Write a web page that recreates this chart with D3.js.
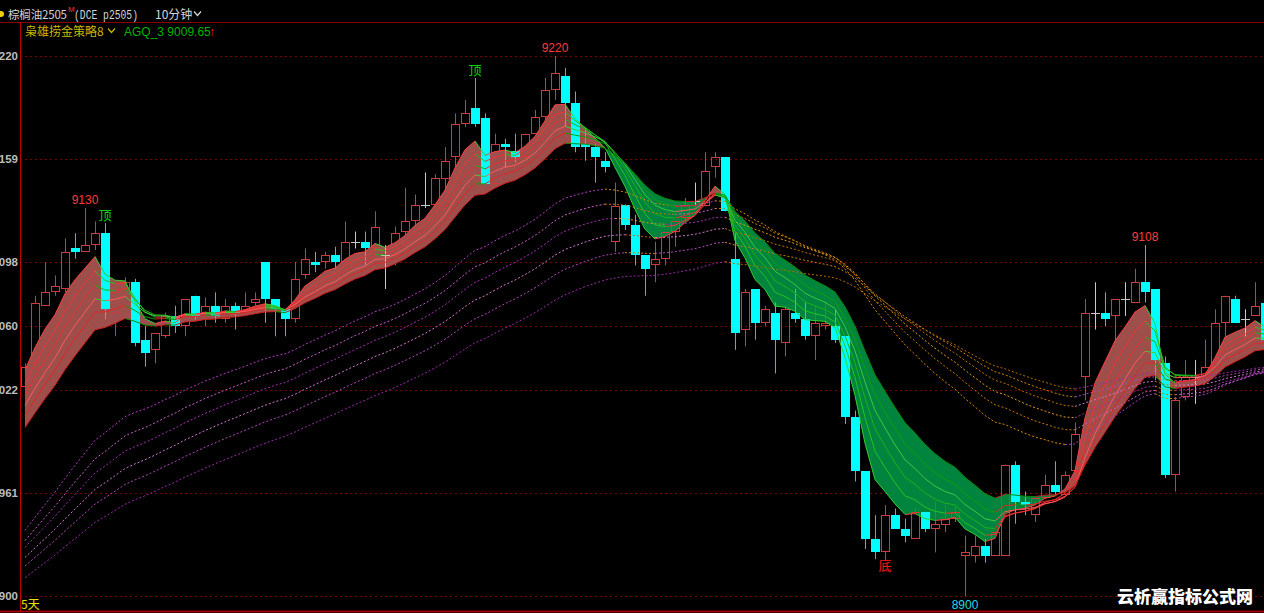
<!DOCTYPE html>
<html><head><meta charset="utf-8">
<script src="https://cdn.jsdelivr.net/npm/d3@7"></script>
<style>html,body{margin:0;padding:0;background:#000;overflow:hidden}</style>
</head><body><svg id="c" width="1264" height="613"></svg>
<script>
// ---- data (price values) ----
const openP  = [9024,9038,9072,9080,9082,9106,9104,9108,9115,9068,9082,9086,9052,9046,9054,9066,9060,9078,9068,9072,9064,9072,9068,9074,9098,9076,9070,9064,9090,9098,9098,9102,9098,9110,9110,9106,9102,9102,9116,9122,9132,9132,9147,9160,9180,9189,9183,9144,9168,9164,9160,9174,9184,9200,9208,9192,9168,9166,9158,9110,9132,9120,9102,9096,9100,9116,9124,9134,9131,9154,9160,9100,9058,9082,9062,9068,9050,9068,9064,9054,9060,9060,9054,9006,8974,8934,8926,8948,8940,8934,8950,8940,8942,8946,8924,8924,8930,8924,8924,8978,8956,8948,8958,8966,8960,8974,9030,9068,9068,9066,9076,9074,9086,9082,9038,8972,9018,9030,9030,9035,9062,9076,9064,9066,9074];
const highP  = [9038,9078,9098,9090,9112,9115,9130,9122,9121,9084,9089,9088,9060,9056,9068,9072,9076,9078,9077,9080,9076,9074,9080,9080,9098,9076,9070,9098,9106,9104,9104,9107,9122,9116,9116,9128,9108,9119,9142,9138,9151,9150,9166,9186,9194,9207,9186,9174,9171,9174,9174,9188,9207,9220,9213,9199,9177,9168,9163,9145,9132,9126,9102,9110,9116,9122,9136,9145,9163,9163,9160,9115,9082,9082,9072,9074,9072,9082,9074,9072,9074,9070,9054,9010,8974,8948,8954,8952,8946,8952,8950,8956,8954,8953,8936,8936,8934,8938,8978,8980,8962,8958,8972,8980,8974,9003,9076,9086,9080,9076,9086,9094,9108,9082,9042,9018,9040,9040,9052,9070,9078,9078,9070,9086,9078];
const lowP   = [9023,9024,9072,9078,9080,9100,9104,9105,9064,9054,9078,9048,9036,9038,9053,9056,9054,9064,9060,9062,9062,9058,9068,9072,9062,9054,9054,9062,9088,9092,9094,9094,9098,9106,9096,9100,9082,9096,9113,9116,9130,9130,9135,9148,9178,9178,9144,9142,9154,9157,9159,9174,9180,9194,9178,9163,9158,9145,9151,9104,9117,9096,9078,9086,9096,9107,9122,9131,9131,9148,9128,9046,9048,9052,9060,9032,9042,9062,9052,9040,9058,9050,9002,8968,8928,8922,8922,8940,8932,8934,8938,8926,8938,8944,8900,8920,8920,8924,8924,8943,8948,8944,8958,8960,8960,8974,9016,9058,9060,9050,9066,9074,9074,9028,8970,8962,9016,9014,9030,9035,9050,9062,9054,9066,9052];
const closeP = [9036,9074,9080,9084,9104,9104,9108,9115,9070,9080,9086,9050,9044,9056,9066,9060,9076,9066,9072,9066,9072,9068,9072,9076,9076,9070,9064,9088,9100,9096,9102,9098,9110,9110,9106,9119,9102,9115,9122,9132,9132,9148,9158,9180,9186,9180,9144,9168,9166,9160,9174,9184,9200,9210,9192,9166,9166,9160,9154,9131,9120,9102,9094,9100,9116,9122,9132,9134,9152,9160,9128,9056,9080,9062,9070,9052,9070,9064,9054,9062,9062,9052,9006,8974,8934,8926,8948,8940,8936,8950,8940,8943,8946,8950,8926,8930,8924,8938,8978,8956,8954,8958,8966,8962,8972,8996,9068,9068,9064,9076,9076,9086,9080,9040,8972,9016,9030,9030,9036,9062,9078,9062,9064,9072,9052];
const yTicks = [9220,9159,9098,9060,9022,8961,8900];
// indicator lines: starting values read at the first bar, and their periods
const ribbonStart   = [9034,9026,9019,9013,9007,9000];
const ribbonPeriods = [5,7,9,11,13,16];
const fanStart      = [8939,8933,8929,8923,8918,8911];
const fanPeriods    = [34,40,46,53,61,72];
// annotations
const priceMarks  = [{i:6,v:9130,side:"high",txt:"9130"},{i:53,v:9220,side:"high",txt:"9220"},{i:112,v:9108,side:"high",txt:"9108"},{i:94,v:8900,side:"low",txt:"8900"}];
const signalMarks = [{i:8,txt:"顶",side:"high"},{i:45,txt:"顶",side:"high"},{i:86,txt:"底",side:"low"}];

// ---- drawing ----
const W=1264,H=613;
const n = closeP.length;
const bars = d3.range(n);
const svg = d3.select("#c");
svg.append("rect").attr("width",W).attr("height",H).attr("fill","#000");

const x = d3.scaleLinear().domain([0,124]).range([25,1265]);
const y = d3.scaleLinear().domain([8900,9220]).range([596.3,56]);

svg.append("defs").append("clipPath").attr("id","plot")
  .append("rect").attr("x",21).attr("y",23).attr("width",W-21).attr("height",587);

// axis + grid (the price column is narrow: only the last three digits are visible)
const axis = svg.append("g").attr("transform","translate(20,0)")
  .call(d3.axisLeft(y).tickValues(yTicks).tickSize(-(W-20)).tickPadding(2).tickFormat(d=>String(d).slice(1)));
axis.select(".domain").remove();
axis.selectAll(".tick").attr("transform",d=>"translate(0,"+(Math.round(y(d))+0.5)+")");
axis.selectAll(".tick line").attr("stroke","#7a0000").attr("stroke-dasharray","2,3");
axis.selectAll(".tick text").attr("fill","#bdbdbd").attr("font-size","11.5px")
  .attr("font-family","'Liberation Sans',Arial,sans-serif").attr("font-weight","bold");

const plot = svg.append("g").attr("clip-path","url(#plot)");

function ema(seed, period){
  const a = 2/(period+1); const out=[seed];
  for(let i=1;i<n;i++) out.push(out[i-1]+a*(closeP[i]-out[i-1]));
  return out;
}
const ribbon = ribbonPeriods.map((p,k)=>ema(ribbonStart[k],p));
const fan = fanPeriods.map((p,k)=>ema(fanStart[k],p));

// ribbon fill between fastest and slowest line
(function(){
  const f = ribbon[0], s = ribbon[ribbon.length-1];
  const runs=[]; let cur={up:f[0]>=s[0],pts:[{x:x(0),f:y(f[0]),s:y(s[0])}]};
  for(let i=1;i<n;i++){
    const up = f[i]>=s[i];
    if(up!==cur.up){
      const d0=f[i-1]-s[i-1], d1=f[i]-s[i]; const t=d0/(d0-d1);
      const cx=x(i-1)+t*(x(i)-x(i-1)); const cv=y(f[i-1]+t*(f[i]-f[i-1]));
      cur.pts.push({x:cx,f:cv,s:cv}); runs.push(cur);
      cur={up:up,pts:[{x:cx,f:cv,s:cv}]};
    }
    cur.pts.push({x:x(i),f:y(f[i]),s:y(s[i])});
  }
  runs.push(cur);
  const area=d3.area().x(d=>d.x).y0(d=>d.f).y1(d=>d.s);
  plot.append("g").selectAll("path").data(runs).join("path")
    .attr("d",r=>area(r.pts)).attr("fill",r=>r.up?"#9e4e4b":"#00843e");
})();

// candles
const cg = plot.append("g");
bars.forEach(i=>{
  const cx = Math.round(x(i));
  const o=openP[i], c=closeP[i], h=highP[i], l=lowP[i];
  const yTop=Math.round(y(Math.max(o,c))), yBot=Math.round(y(Math.min(o,c)));
  if(c>o){
    const col="#d03a3a";
    cg.append("line").attr("x1",cx+0.5).attr("x2",cx+0.5).attr("y1",y(h)).attr("y2",yTop).attr("stroke",col);
    cg.append("line").attr("x1",cx+0.5).attr("x2",cx+0.5).attr("y1",yBot).attr("y2",y(l)).attr("stroke",col);
    cg.append("rect").attr("x",cx-3.5).attr("y",yTop+0.5).attr("width",8).attr("height",Math.max(1,yBot-yTop-1))
      .attr("fill","none").attr("stroke",col);
  } else if(c<o){
    cg.append("line").attr("x1",cx+0.5).attr("x2",cx+0.5).attr("y1",y(h)).attr("y2",y(l)).attr("stroke","#00d8d8");
    cg.append("rect").attr("x",cx-4).attr("y",yTop).attr("width",9).attr("height",Math.max(1,yBot-yTop))
      .attr("fill","#00ffff");
  } else {
    cg.append("line").attr("x1",cx+0.5).attr("x2",cx+0.5).attr("y1",y(h)).attr("y2",y(l)).attr("stroke","#c8c8c8");
    cg.append("line").attr("x1",cx-4).attr("x2",cx+5).attr("y1",yTop+0.5).attr("y2",yTop+0.5).attr("stroke","#c8c8c8");
  }
});

// coloured line runs
function drawRuns(g, vals, upCol, dnCol, dash){
  const line=d3.line().x(i=>x(i)).y(i=>y(vals[i]));
  let start=0, up=vals[1]>=vals[0];
  const flush=(a,b,u)=>{ g.append("path").attr("d",line(d3.range(a,b+1))).attr("fill","none")
      .attr("stroke",u?upCol:dnCol).attr("stroke-width",1).attr("stroke-dasharray",dash||null); };
  for(let i=2;i<n;i++){
    const u=vals[i]>=vals[i-1];
    if(u!==up){ flush(start,i-1,up); start=i-1; up=u; }
  }
  flush(start,n-1,up);
}
const fanG = plot.append("g");
const purples=["#b23cc0","#c860c8","#a030b0","#d07ad0","#b048b8","#9a2aa8"];
const oranges=["#d88a00","#c87800","#e09a20","#c07000","#d08410","#b86a00"];
fan.forEach((v,k)=>drawRuns(fanG,v,purples[k],oranges[k],"2,2"));
const ribG = plot.append("g");
const reds=["#ff4040","#f03434","#e83030","#ff5a5a","#e02626","#d01c1c"];
const greens=["#30d030","#22c422","#18b418","#40c840","#0ca00c","#068a06"];
ribbon.forEach((v,k)=>drawRuns(ribG,v,reds[k],greens[k]));

// annotations
const ag = svg.append("g");
priceMarks.forEach(m=>{
  ag.append("text").attr("x",x(m.i)).attr("y",m.side==="high"?y(m.v)-4:y(m.v)+13)
    .attr("text-anchor","middle").attr("font-size","12px").attr("font-family","'Liberation Sans',Arial,sans-serif")
    .attr("fill",m.side==="high"?"#ff3a3a":"#20d8e8").text(m.txt);
});
signalMarks.forEach(m=>{
  const yy = m.side==="high"? y(highP[m.i])-3 : y(lowP[m.i])+11;
  ag.append("text").attr("x",x(m.i)).attr("y",yy).attr("text-anchor","middle").attr("font-size","13px")
    .attr("font-family","'Noto Sans CJK SC',sans-serif").attr("fill",m.side==="high"?"#10d010":"#ff1a1a").text(m.txt);
});

// frame
svg.append("line").attr("x1",0).attr("x2",W).attr("y1",22.5).attr("y2",22.5).attr("stroke","#8a0000");
svg.append("line").attr("x1",20.5).attr("x2",20.5).attr("y1",22).attr("y2",611).attr("stroke","#c00000");
svg.append("line").attr("x1",0).attr("x2",W).attr("y1",611.5).attr("y2",611.5).attr("stroke","#a00000").attr("stroke-width",2);

// header
const cjk="'Noto Sans CJK SC',sans-serif";
svg.append("circle").attr("cx",1).attr("cy",14).attr("r",3).attr("fill","#f0d000");
svg.append("text").attr("x",8).attr("y",19).attr("font-size","11.5px").attr("font-family",cjk).attr("fill","#d4d4d4")
  .attr("textLength",59).text("棕榈油2505");
svg.append("text").attr("x",68).attr("y",12).attr("font-size","8px").attr("font-family","'Liberation Sans',Arial").attr("fill","#ff3030").text("M");
svg.append("text").attr("x",74).attr("y",19).attr("font-size","12px").attr("font-family","'Liberation Mono',monospace").attr("fill","#d4d4d4")
  .attr("textLength",64).attr("lengthAdjust","spacingAndGlyphs").text("(DCE p2505)");
svg.append("text").attr("x",155).attr("y",19).attr("font-size","12px").attr("font-family",cjk).attr("fill","#d4d4d4").text("10分钟");
svg.append("path").attr("d","M194,11.5 L197.5,15.5 L201,11.5").attr("fill","none").attr("stroke","#d4d4d4").attr("stroke-width",1.2);
svg.append("text").attr("x",25).attr("y",36).attr("font-size","12px").attr("font-family",cjk).attr("fill","#c8b800").text("枭雄捞金策略8");
svg.append("path").attr("d","M108,28.5 L111.5,32.5 L115,28.5").attr("fill","none").attr("stroke","#c8b800").attr("stroke-width",1.2);
svg.append("text").attr("x",124).attr("y",36).attr("font-size","12px").attr("font-family","'Liberation Sans',Arial").attr("fill","#00b400").text("AGQ_3 9009.65");
svg.append("text").attr("x",209).attr("y",36).attr("font-size","12px").attr("font-family","'Liberation Sans',Arial").attr("fill","#ff2020").text("↑");

// footer
svg.append("text").attr("x",21).attr("y",609).attr("font-size","12px").attr("font-family",cjk).attr("fill","#f0e000").text("5天");
svg.append("text").attr("x",1117).attr("y",603).attr("font-size","17px").attr("font-weight","900").attr("font-family",cjk)
  .attr("fill","#ffffff").attr("textLength",136).text("云析赢指标公式网");
</script></body></html>
